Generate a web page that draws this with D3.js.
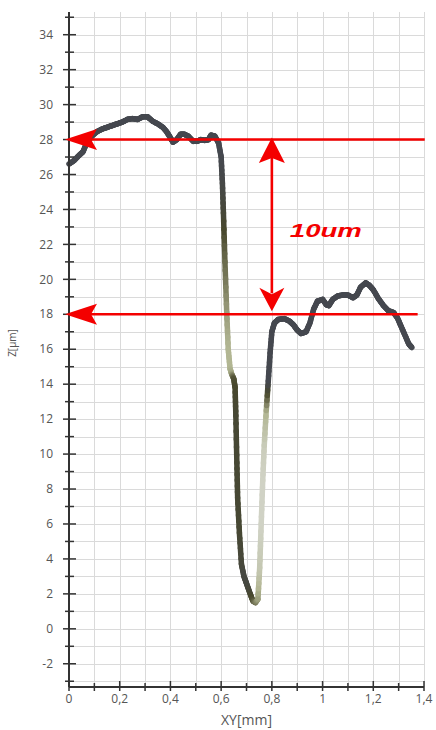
<!DOCTYPE html>
<html>
<head>
<meta charset="utf-8">
<script src="https://cdn.jsdelivr.net/npm/d3@7"></script>
<style>
  html, body { margin: 0; padding: 0; background: #fff; }
  svg { display: block; }
</style>
</head>
<body>
<script>
// Profile trace: lateral position XY [mm] and height Z [µm]
const xyMM = [
  0.000, 0.020, 0.040, 0.055, 0.070, 0.090, 0.110, 0.130, 0.150, 0.170,
  0.190, 0.210, 0.230, 0.250, 0.270, 0.290, 0.310, 0.330, 0.350, 0.370,
  0.385, 0.400, 0.410, 0.425, 0.440, 0.455, 0.470, 0.490, 0.505, 0.520,
  0.535, 0.550, 0.560, 0.575, 0.590, 0.600, 0.605, 0.609, 0.615, 0.622,
  0.628, 0.635, 0.641, 0.650, 0.655, 0.658, 0.662, 0.665, 0.672, 0.680,
  0.690, 0.700, 0.712, 0.725, 0.735, 0.745, 0.752, 0.758, 0.764, 0.770,
  0.778, 0.786, 0.793, 0.800, 0.810, 0.825, 0.850, 0.870, 0.885, 0.900,
  0.915, 0.935, 0.950, 0.965, 0.980, 1.000, 1.015, 1.025, 1.040, 1.060,
  1.080, 1.100, 1.120, 1.135, 1.150, 1.170, 1.185, 1.200, 1.220, 1.240,
  1.260, 1.280, 1.295, 1.310, 1.325, 1.340, 1.352
];
const zUM = [
  26.6, 26.8, 27.1, 27.3, 27.8, 28.2, 28.45, 28.6, 28.7, 28.8,
  28.9, 29.0, 29.15, 29.2, 29.15, 29.3, 29.3, 29.05, 28.9, 28.7,
  28.45, 28.1, 27.85, 28.0, 28.3, 28.3, 28.2, 27.9, 27.9, 28.0,
  27.95, 28.0, 28.25, 28.2, 27.8, 27.0, 25.5, 23.8, 21.0, 18.1,
  16.0, 14.9, 14.6, 14.3, 13.8, 12.2, 9.5, 7.5, 5.5, 3.7,
  3.0, 2.6, 2.1, 1.6, 1.5, 1.7, 3.5, 6.0, 8.5, 10.5,
  12.5, 14.2, 15.8, 17.0, 17.5, 17.7, 17.75, 17.6, 17.4, 17.1,
  16.9, 17.0, 17.5, 18.3, 18.75, 18.85, 18.55, 18.5, 18.85, 19.05,
  19.1, 19.1, 18.95, 19.1, 19.55, 19.8, 19.65, 19.4, 18.9, 18.5,
  18.2, 18.1, 17.8, 17.3, 16.8, 16.3, 16.1
];
// Signal quality along the trace (1 = strong return, 0 = weak)
const quality = [
  1, 1, 1, 1, 1, 1, 1, 1, 1, 1,
  1, 1, 1, 1, 1, 1, 1, 1, 1, 1,
  1, 1, 1, 1, 1, 1, 1, 1, 1, 1,
  1, 1, 1, 1, 1, 1, 0.95, 0.85, 0.6, 0.4,
  0.3, 0.3, 0.35, 0.7, 0.75, 0.8, 0.8, 0.8, 0.8, 0.85,
  0.9, 0.9, 0.85, 0.7, 0.55, 0.4, 0.15, 0.05, 0.05, 0.1,
  0.3, 1, 1, 1, 1, 1, 1, 1, 1, 1,
  1, 1, 1, 1, 1, 1, 1, 1, 1, 1,
  1, 1, 1, 1, 1, 1, 1, 1, 1, 1,
  1, 1, 1, 1, 1, 1, 1
];

// Axis ticks
const xMajorTicks = [0, 0.2, 0.4, 0.6, 0.8, 1, 1.2, 1.4];
const xMinorTicks = [0.1, 0.3, 0.5, 0.7, 0.9, 1.1, 1.3];
const xGrid = d3.range(1, 15).map(d => d / 10);
const yMajorTicks = d3.range(-2, 35, 2);
const yMinorTicks = d3.range(-3, 36, 2);
const yGrid = d3.range(-3, 36, 1);

// Step-height annotation
const levels = [28, 18];
const stepAt = 0.8;
const stepLabel = "10um";
const levelEnds = [1.403, 1.375];

const W = 436, H = 730;
const svg = d3.select("body").append("svg").attr("width", W).attr("height", H);

const x = d3.scaleLinear().domain([0, 1.4]).range([69, 424]);
const y = d3.scaleLinear().domain([-3.33, 35.3]).range([687, 12]);

const fmt = d => d === 0 || d === 1 ? String(d) : String(d).replace(".", ",");

// Grid
const grid = svg.append("g").attr("stroke", "#dadada").attr("stroke-width", 1);
grid.selectAll("line.v").data(xGrid).join("line")
  .attr("x1", d => Math.round(x(d)) + 0.5).attr("x2", d => Math.round(x(d)) + 0.5)
  .attr("y1", y.range()[1]).attr("y2", y.range()[0]);
grid.selectAll("line.h").data(yGrid).join("line")
  .attr("y1", d => Math.round(y(d)) + 0.5).attr("y2", d => Math.round(y(d)) + 0.5)
  .attr("x1", x.range()[0]).attr("x2", x.range()[1]);

// Profile trace, coloured by signal quality; each span is split into
// short pieces so the colour blends smoothly along the line
const shade = d3.scaleLinear()
  .domain([0, 0.3, 0.5, 0.75, 1])
  .range(["#d6d8cf", "#b2b693", "#7d7e5f", "#48482d", "#45484f"]);
const pieces = [];
const SPLIT = 6;
for (let i = 0; i < xyMM.length - 1; i++) {
  for (let k = 0; k < SPLIT; k++) {
    const t0 = k / SPLIT, t1 = (k + 1) / SPLIT, tm = (t0 + t1) / 2;
    pieces.push({
      x0: xyMM[i] + (xyMM[i + 1] - xyMM[i]) * t0,
      z0: zUM[i] + (zUM[i + 1] - zUM[i]) * t0,
      x1: xyMM[i] + (xyMM[i + 1] - xyMM[i]) * t1,
      z1: zUM[i] + (zUM[i + 1] - zUM[i]) * t1,
      q: quality[i] + (quality[i + 1] - quality[i]) * tm
    });
  }
}
svg.append("g")
  .attr("stroke-width", 5.5).attr("stroke-linecap", "round").attr("fill", "none")
  .selectAll("line").data(pieces).join("line")
  .attr("x1", d => x(d.x0)).attr("y1", d => y(d.z0))
  .attr("x2", d => x(d.x1)).attr("y2", d => y(d.z1))
  .attr("stroke", d => shade(d.q));

// Axes
const axisColor = "#333";
const labelColor = "#555";
const yAxis = svg.append("g").attr("transform", `translate(${x(0)},0)`);
yAxis.append("line").attr("x1", 0).attr("x2", 0)
  .attr("y1", y.range()[1]).attr("y2", y.range()[0])
  .attr("stroke", axisColor).attr("stroke-width", 2);
yAxis.selectAll("line.maj").data(yMajorTicks).join("line")
  .attr("x1", -6).attr("x2", 7).attr("y1", d => y(d)).attr("y2", d => y(d))
  .attr("stroke", axisColor).attr("stroke-width", 1.5);
yAxis.selectAll("line.min").data(yMinorTicks).join("line")
  .attr("x1", -4).attr("x2", 5).attr("y1", d => y(d)).attr("y2", d => y(d))
  .attr("stroke", axisColor).attr("stroke-width", 1.5);
yAxis.selectAll("text").data(yMajorTicks).join("text")
  .attr("x", -16).attr("y", d => y(d)).attr("dy", "0.35em")
  .attr("text-anchor", "end")
  .attr("font-family", "'Open Sans', sans-serif").attr("font-size", 12)
  .attr("fill", labelColor).text(fmt);

const xAxis = svg.append("g").attr("transform", `translate(0,${y.range()[0]})`);
xAxis.append("line").attr("y1", 0).attr("y2", 0)
  .attr("x1", x.range()[0]).attr("x2", x.range()[1])
  .attr("stroke", axisColor).attr("stroke-width", 2);
xAxis.selectAll("line.maj").data(xMajorTicks).join("line")
  .attr("y1", -6).attr("y2", 4).attr("x1", d => x(d)).attr("x2", d => x(d))
  .attr("stroke", axisColor).attr("stroke-width", 1.5);
xAxis.selectAll("line.min").data(xMinorTicks).join("line")
  .attr("y1", -4).attr("y2", 4).attr("x1", d => x(d)).attr("x2", d => x(d))
  .attr("stroke", axisColor).attr("stroke-width", 1.5);
xAxis.selectAll("text").data(xMajorTicks).join("text")
  .attr("x", d => x(d)).attr("y", 16)
  .attr("text-anchor", "middle")
  .attr("font-family", "'Open Sans', sans-serif").attr("font-size", 12)
  .attr("fill", labelColor).text(fmt);

// Axis titles
svg.append("text")
  .attr("x", (x.range()[0] + x.range()[1]) / 2).attr("y", 725)
  .attr("text-anchor", "middle")
  .attr("font-family", "'Open Sans', sans-serif").attr("font-size", 14)
  .attr("fill", labelColor).text("XY[mm]");
svg.append("text")
  .attr("transform", "translate(16,343) rotate(-90)")
  .attr("text-anchor", "middle")
  .attr("font-family", "'Open Sans', sans-serif").attr("font-size", 10)
  .attr("fill", labelColor).text("Z[µm]");

// Step-height annotation in red
const red = "#f40000";
const ann = svg.append("g");
levels.forEach((lv, i) => {
  const yy = y(lv);
  const tip = x(0) - 4;
  ann.append("line")
    .attr("x1", tip + 20).attr("x2", x(levelEnds[i]))
    .attr("y1", yy).attr("y2", yy)
    .attr("stroke", red).attr("stroke-width", 2.6);
  ann.append("path")
    .attr("d", `M${tip},${yy} L${tip + 32},${yy - 10.5} L${tip + 26},${yy} L${tip + 32},${yy + 10.5} Z`)
    .attr("fill", red);
});
const ax = x(stepAt), yTop = y(levels[0]) - 2, yBot = y(levels[1]) - 3;
ann.append("line")
  .attr("x1", ax).attr("x2", ax).attr("y1", yTop + 18).attr("y2", yBot - 18)
  .attr("stroke", red).attr("stroke-width", 2.6);
ann.append("path")
  .attr("d", `M${ax},${yTop} L${ax + 13},${yTop + 25.5} L${ax},${yTop + 20.5} L${ax - 13},${yTop + 25.5} Z`)
  .attr("fill", red);
ann.append("path")
  .attr("d", `M${ax},${yBot} L${ax + 12.5},${yBot - 23.5} L${ax},${yBot - 17} L${ax - 12.5},${yBot - 23.5} Z`)
  .attr("fill", red);
ann.append("text")
  .attr("x", ax + 18).attr("y", y((levels[0] + levels[1]) / 2) + 10)
  .attr("font-family", "'Liberation Sans', Arial, sans-serif")
  .attr("font-size", 19).attr("font-weight", "bold").attr("font-style", "italic")
  .attr("textLength", 72).attr("lengthAdjust", "spacingAndGlyphs")
  .attr("fill", red).text(stepLabel);
</script>
</body>
</html>
